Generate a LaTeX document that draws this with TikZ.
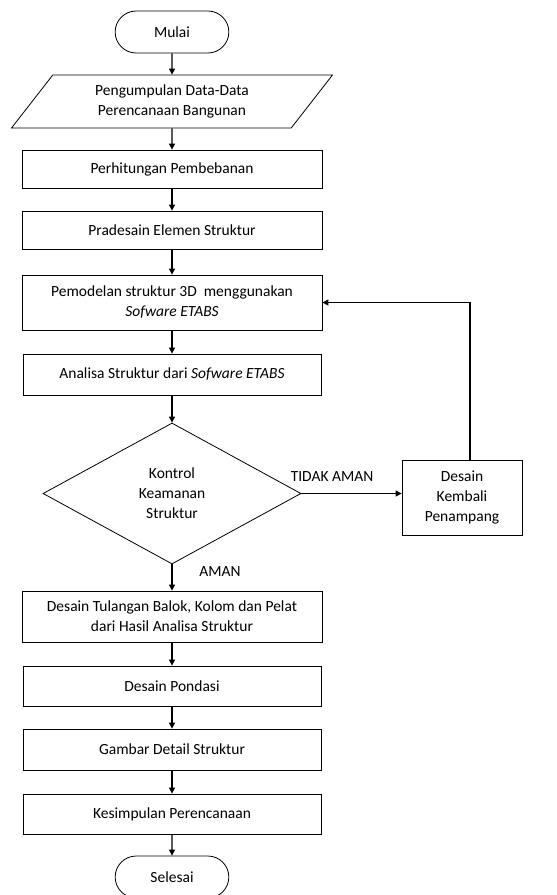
\documentclass[tikz,border=0pt]{standalone}
\usepackage{fontspec}
\setmainfont{Carlito}
\usepackage{tikz}
\usetikzlibrary{shapes.geometric,shapes.misc,arrows.meta}

\begin{document}
\begin{tikzpicture}[x=1pt,y=-1pt,
  box/.style={draw,line width=0.8pt,minimum width=300pt,align=center,inner sep=2pt},
  term/.style={draw,line width=0.8pt,rounded rectangle,minimum width=124pt,minimum height=42pt},
  io/.style={draw,line width=0.8pt,trapezium,trapezium left angle=39,trapezium right angle=141,trapezium stretches body,minimum width=321pt,minimum height=53pt,align=center,inner sep=0pt},
  cek/.style={draw,line width=0.8pt,diamond,minimum width=258pt,minimum height=141pt,align=center,inner sep=0pt},
  arr/.style={line width=1.1pt,-{Triangle[length=6pt,width=6pt]}}]
\useasboundingbox (0,0) rectangle (557,895);
\fontsize{15.5}{20}\selectfont

\node[term] (mulai) at (172,32) {Mulai};
\node[io] (data) at (172,101.5) {Pengumpulan Data-Data\\Perencanaan Bangunan};
\node[box,minimum height=38pt] (hitung) at (172,169) {Perhitungan Pembebanan};
\node[box,minimum height=38pt] (pradesain) at (172,230) {Pradesain Elemen Struktur};
\node[box,minimum height=55pt] (pemodelan) at (172,302.5) {Pemodelan struktur 3D\ \ menggunakan\\\textit{Sofware ETABS}};
\node[box,minimum height=41pt,minimum width=298pt] (analisa) at (172,374.5) {Analisa Struktur dari \textit{Sofware ETABS}};
\node[cek] (keamanan) at (172,493.5) {Kontrol\\Keamanan\\Struktur};
\node[box,minimum width=120pt,minimum height=75pt] (kembali) at (462,497.5) {Desain\\Kembali\\Penampang};
\node[box,minimum height=51pt] (tulangan) at (172,616.5) {Desain Tulangan Balok, Kolom dan Pelat\\dari Hasil Analisa Struktur};
\node[box,minimum height=40pt,minimum width=298pt] (pondasi) at (172,686) {Desain Pondasi};
\node[box,minimum height=41pt,minimum width=298pt] (gambar) at (172,749.5) {Gambar Detail Struktur};
\node[box,minimum height=40pt,minimum width=298pt] (kesimpulan) at (172,814) {Kesimpulan Perencanaan};
\node[term] (selesai) at (172,877) {Selesai};

\node (tidak) at (332,477) {TIDAK AMAN};
\node (aman) at (220,572) {AMAN};

\draw[arr] (mulai) -- (data);
\draw[arr] (data) -- (hitung);
\draw[arr] (hitung) -- (pradesain);
\draw[arr] (pradesain) -- (pemodelan);
\draw[arr] (pemodelan) -- (analisa);
\draw[arr] (analisa) -- (keamanan);
\draw[arr] (keamanan) -- (tulangan);
\draw[arr] (keamanan.east) -- (keamanan.east -| kembali.west);
\draw[arr] ([xshift=8pt]kembali.north) |- (pemodelan.east);
\draw[arr] (tulangan) -- (pondasi);
\draw[arr] (pondasi) -- (gambar);
\draw[arr] (gambar) -- (kesimpulan);
\draw[arr] (kesimpulan) -- (selesai);
\end{tikzpicture}
\end{document}
